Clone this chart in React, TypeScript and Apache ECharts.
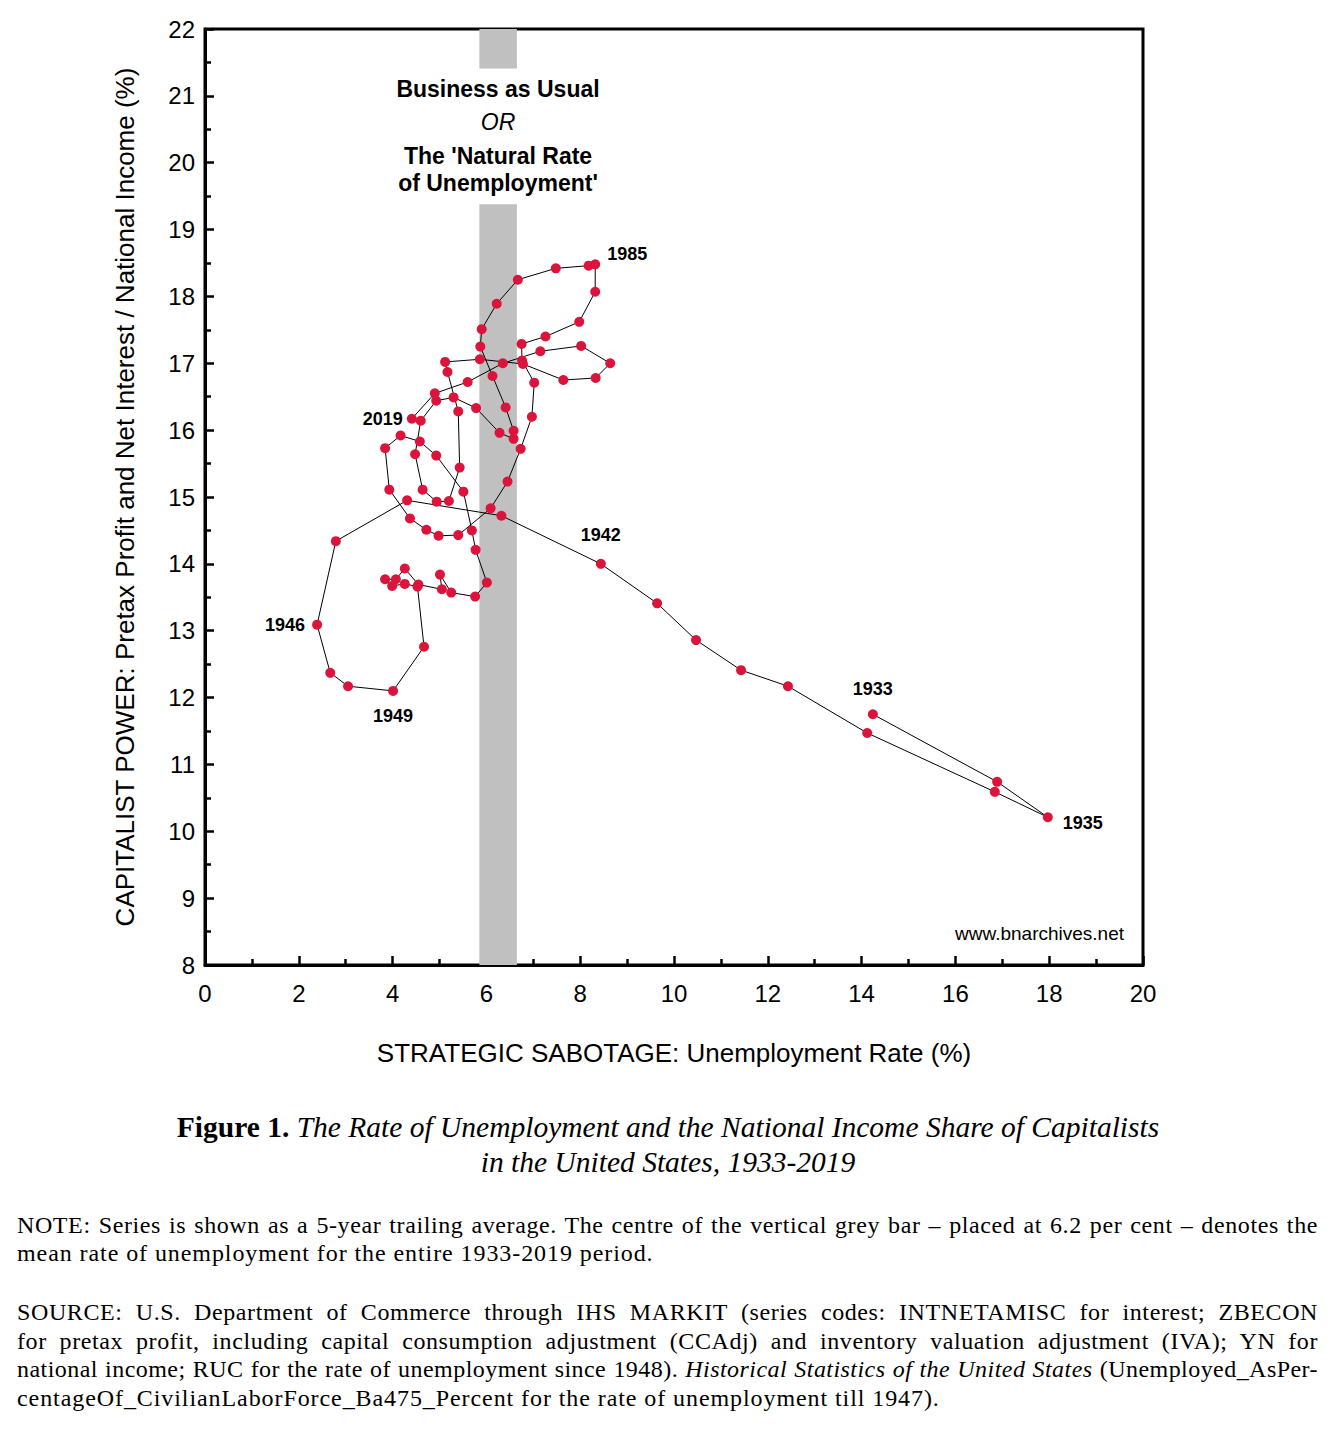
import React, { useEffect, useRef } from "react";
import * as echarts from "echarts";

const startYear = 1933;

// Unemployment rate (%), 5-year trailing average, 1933..2019
const unemployment = [
  14.24, 16.89, 17.97, 16.84, 14.12, 12.43, 11.43, 10.47, 9.64, 8.44,
  6.32, 4.31, 2.79, 2.39, 2.67, 3.05, 4.01, 4.67, 4.53, 4.26,
  3.99, 3.84, 4.07, 4.26, 4.55, 5.05, 5.01, 5.25, 5.76, 6.01,
  5.77, 5.69, 5.51, 4.93, 4.58, 4.17, 3.84, 3.93, 4.37, 4.72,
  4.98, 5.4, 6.09, 6.45, 6.73, 6.97, 7.02, 6.76, 6.75, 7.26,
  7.98, 8.32, 8.32, 8.18, 7.48, 6.67, 6.22, 5.9, 5.87, 6.13,
  6.41, 6.58, 6.58, 6.28, 5.78, 5.3, 4.93, 4.6, 4.48, 4.64,
  4.94, 5.2, 5.43, 5.4, 5.17, 5.12, 5.86, 6.78, 7.64, 8.33,
  8.64, 8.02, 7.15, 6.35, 5.6, 4.9, 4.41,
];

// Pretax profit and net interest / national income (%), 1933..2019
const capitalistShare = [
  11.75, 10.74, 10.21, 10.59, 11.47, 12.17, 12.41, 12.86, 13.41, 14.0,
  14.72, 14.95, 14.34, 13.09, 12.37, 12.17, 12.1, 12.76, 13.66, 13.7,
  13.67, 13.77, 13.77, 13.93, 13.69, 13.62, 13.84, 13.57, 13.51, 13.72,
  14.21, 14.5, 15.08, 15.62, 15.83, 15.92, 15.73, 15.11, 14.68, 14.51,
  14.42, 14.43, 14.83, 15.23, 15.72, 16.2, 16.71, 17.04, 17.29, 17.4,
  17.62, 18.07, 18.48, 18.46, 18.42, 18.25, 17.89, 17.51, 17.25, 16.81,
  16.34, 15.99, 15.87, 15.96, 16.33, 16.49, 16.44, 16.14, 15.64, 15.11,
  14.93, 14.94, 15.44, 16.28, 16.87, 17.02, 17.06, 16.99, 16.75, 16.78,
  17.0, 17.26, 17.18, 17.0, 16.72, 16.55, 16.17,
];

const labeledYears = [1933, 1935, 1942, 1946, 1949, 1985, 2019];

// grey band: mean unemployment 6.2%
const bandRange = [5.85, 6.65];
const bandGapY = [19.38, 21.41];

const xTicks = { min: 0, max: 20, interval: 2 };
const yTicks = { min: 8, max: 22, interval: 1 };

const labelPlacement: Record<number, any> = {
  1933: { position: "top", distance: 11 },
  1935: { position: "right", distance: 10, offset: [0, 6] },
  1942: { position: "top", distance: 15 },
  1946: { position: "left", distance: 7 },
  1949: { position: "bottom", distance: 11 },
  1985: { position: "right", distance: 7, offset: [0, -10] },
  2019: { position: "left", distance: 4 },
};

const sans = '"Liberation Sans", Arial, Helvetica, sans-serif';
const serif = '"Liberation Serif", "Times New Roman", serif';

function Chart() {
  const ref = useRef<HTMLDivElement>(null);
  useEffect(() => {
    if (!ref.current) return;
    const chart = echarts.init(ref.current, undefined, { renderer: "svg" });
    const data = unemployment.map((u, i) => {
      const year = startYear + i;
      if (labeledYears.includes(year)) {
        return {
          value: [u, capitalistShare[i]],
          label: {
            show: true,
            formatter: String(year),
            fontFamily: sans,
            fontWeight: "bold",
            fontSize: 18,
            color: "#000",
            ...labelPlacement[year],
          },
        };
      }
      return [u, capitalistShare[i]];
    });
    const centerText = (text: string, y: number, style: any) => ({
      type: "text",
      x: 498,
      y,
      style: {
        text,
        fill: "#000",
        fontFamily: sans,
        fontSize: 23,
        textAlign: "center",
        textVerticalAlign: "middle",
        ...style,
      },
      z: 100,
    });
    chart.setOption({
      animation: false,
      backgroundColor: "#fff",
      grid: {
        left: 205,
        top: 29,
        width: 938,
        height: 936,
        show: true,
        borderColor: "#000",
        borderWidth: 3,
        backgroundColor: "transparent",
      },
      xAxis: {
        type: "value",
        ...xTicks,
        name: "STRATEGIC SABOTAGE: Unemployment Rate (%)",
        nameLocation: "middle",
        nameGap: 75,
        nameTextStyle: { fontFamily: sans, fontSize: 26, color: "#000" },
        axisLine: { show: true, onZero: false, lineStyle: { color: "#000", width: 3 } },
        axisTick: { show: true, inside: true, length: 9, lineStyle: { color: "#000", width: 2.5 } },
        minorTick: { show: true, splitNumber: 2, length: 6, lineStyle: { color: "#000", width: 2.5 } },
        axisLabel: { fontFamily: sans, fontSize: 24, color: "#000", margin: 16 },
        splitLine: { show: false },
      },
      yAxis: {
        type: "value",
        ...yTicks,
        name: "CAPITALIST POWER: Pretax Profit and Net Interest / National Income (%)",
        nameLocation: "middle",
        nameGap: 67,
        nameTextStyle: { fontFamily: sans, fontSize: 26, color: "#000" },
        axisLine: { show: true, onZero: false, lineStyle: { color: "#000", width: 3 } },
        axisTick: { show: true, inside: true, length: 9, lineStyle: { color: "#000", width: 2.5 } },
        minorTick: { show: true, splitNumber: 2, length: 6, lineStyle: { color: "#000", width: 2.5 } },
        axisLabel: { fontFamily: sans, fontSize: 24, color: "#000", margin: 10 },
        splitLine: { show: false },
      },
      graphic: [
        centerText("Business as Usual", 89, { fontWeight: "bold" }),
        centerText("OR", 122, { fontStyle: "italic" }),
        centerText("The 'Natural Rate", 156, { fontWeight: "bold" }),
        centerText("of Unemployment'", 183, { fontWeight: "bold" }),
        {
          type: "text",
          x: 1124,
          y: 933,
          style: {
            text: "www.bnarchives.net",
            fill: "#000",
            fontFamily: sans,
            fontSize: 19,
            textAlign: "right",
            textVerticalAlign: "middle",
          },
          z: 100,
        },
      ],
      series: [
        {
          type: "line",
          data,
          symbol: "circle",
          symbolSize: 10,
          itemStyle: { color: "#dc143c" },
          lineStyle: { color: "#000", width: 1 },
          z: 5,
          markArea: {
            silent: true,
            itemStyle: { color: "#c0c0c0", opacity: 1 },
            data: [
              [
                { xAxis: bandRange[0], yAxis: yTicks.max },
                { xAxis: bandRange[1], yAxis: bandGapY[1] },
              ],
              [
                { xAxis: bandRange[0], yAxis: bandGapY[0] },
                { xAxis: bandRange[1], yAxis: yTicks.min },
              ],
            ],
          },
        },
      ],
    });
    return () => chart.dispose();
  }, []);
  return <div ref={ref} style={{ position: "absolute", left: 0, top: 0, width: 1336, height: 1090 }} />;
}

const lineJ = (spacing: number): React.CSSProperties => ({
  textAlign: "justify",
  textAlignLast: "justify" as any,
  whiteSpace: "nowrap",
  letterSpacing: `${spacing}px`,
});
const lineL: React.CSSProperties = { textAlign: "left", whiteSpace: "nowrap", letterSpacing: "0.92px" };

const noteBlock: React.CSSProperties = {
  position: "absolute",
  left: 17,
  width: 1301,
  fontFamily: serif,
  fontSize: 24,
};

export default function App() {
  return (
    <div style={{ position: "absolute", left: 0, top: 0, width: 1336, height: 1430, background: "#fff", color: "#000" }}>
      <Chart />
      <div
        style={{
          position: "absolute",
          top: 1110,
          left: 0,
          width: 1336,
          textAlign: "center",
          fontFamily: serif,
          fontSize: 29.5,
          lineHeight: "35px",
        }}
      >
        <b>Figure 1.</b> <i>The Rate of Unemployment and the National Income Share of Capitalists</i>
        <br />
        <i>in the United States, 1933-2019</i>
      </div>
      <div style={{ ...noteBlock, top: 1211, lineHeight: "28px" }}>
        <div style={lineJ(0.6)}>
          NOTE: Series is shown as a 5-year trailing average. The centre of the vertical grey bar – placed at 6.2 per cent – denotes the
        </div>
        <div style={lineL}>mean rate of unemployment for the entire 1933-2019 period.</div>
      </div>
      <div style={{ ...noteBlock, top: 1298, lineHeight: "28.7px" }}>
        <div style={lineJ(0.6)}>
          SOURCE: U.S. Department of Commerce through IHS MARKIT (series codes: INTNETAMISC for interest; ZBECON
        </div>
        <div style={lineJ(0.6)}>
          for pretax profit, including capital consumption adjustment (CCAdj) and inventory valuation adjustment (IVA); YN for
        </div>
        <div style={lineJ(0.45)}>
          national income; RUC for the rate of unemployment since 1948). <i>Historical Statistics of the United States</i> (Unemployed_AsPer-
        </div>
        <div style={lineL}>centageOf_CivilianLaborForce_Ba475_Percent for the rate of unemployment till 1947).</div>
      </div>
    </div>
  );
}
